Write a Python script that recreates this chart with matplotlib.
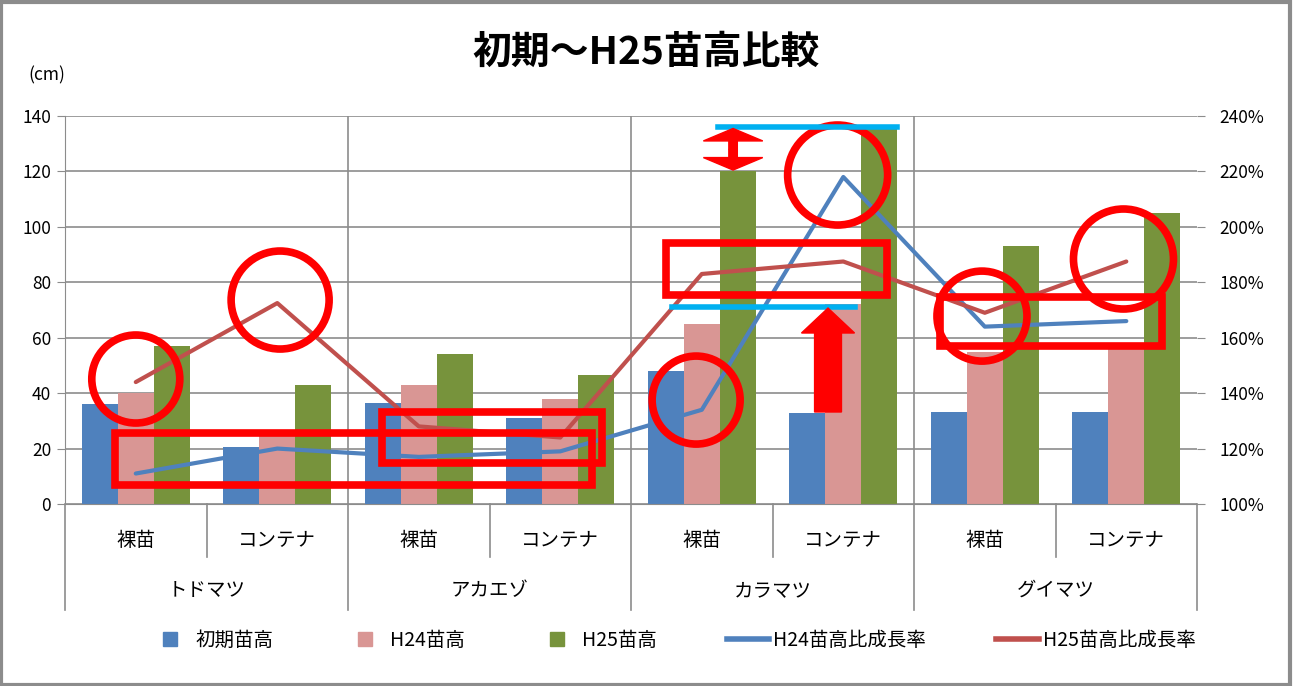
import matplotlib
matplotlib.use('Agg')
import matplotlib.pyplot as plt
import matplotlib.patches as mpatches
from matplotlib.lines import Line2D
from matplotlib.ticker import FuncFormatter
import numpy as np

plt.rcParams['font.family'] = ['Noto Sans CJK JP', 'DejaVu Sans']

# data
species = ['トドマツ', 'アカエゾ', 'カラマツ', 'グイマツ']
types = ['裸苗', 'コンテナ'] * 4
initial_h = [36, 20.5, 36.5, 31, 48, 33, 33.3, 33.3]
h24_h = [40, 25, 43, 38, 65, 72, 55, 56]
h25_h = [57, 43, 54, 46.5, 120, 136, 93, 105]
rate_h24 = [1.11, 1.20, 1.17, 1.19, 1.34, 2.18, 1.64, 1.66]
rate_h25 = [1.44, 1.725, 1.28, 1.24, 1.83, 1.875, 1.69, 1.875]

C_BLUE = '#4F81BD'
C_PINK = '#D99694'
C_GREEN = '#77933C'
C_RED = '#C0504D'
GRID = '#8C8C8C'
MARK = '#FF0000'

fig = plt.figure(figsize=(12.93, 6.86), dpi=100)
ax = fig.add_axes([0.0503, 0.2653, 0.8755, 0.5656])
ax2 = ax.twinx()

x = np.arange(len(types))
w = 0.255
ax.bar(x - w, initial_h, w, color=C_BLUE, zorder=2)
ax.bar(x, h24_h, w, color=C_PINK, zorder=2)
ax.bar(x + w, h25_h, w, color=C_GREEN, zorder=2)

ax2.plot(x, rate_h24, color=C_BLUE, lw=3, solid_capstyle='round', zorder=3)
ax2.plot(x, rate_h25, color=C_RED, lw=3, solid_capstyle='round', zorder=3)

ax.set_xlim(-0.5, 7.5)
ax.set_ylim(0, 140)
ax.set_yticks(range(0, 141, 20))
ax2.set_ylim(1.0, 2.4)
ax2.set_yticks(np.arange(1.0, 2.41, 0.2))
ax2.yaxis.set_major_formatter(FuncFormatter(lambda v, p: f'{v * 100:.0f}%'))

ax.set_xticks([])
ax.grid(axis='y', color=GRID, lw=1.2, zorder=0)
ax.set_axisbelow(True)
for b in [1.5, 3.5, 5.5]:
    ax.axvline(b, color=GRID, lw=1.2, zorder=0)
for a in (ax, ax2):
    for s in ['top', 'right']:
        a.spines[s].set_visible(False)
    a.spines['left'].set_visible(a is ax)
    a.spines['bottom'].set_visible(a is ax)
ax.spines['left'].set_color(GRID)
ax.spines['bottom'].set_color(GRID)
ax.tick_params(axis='y', labelsize=12.5, length=6, color=GRID, pad=4)
ax2.tick_params(axis='y', labelsize=12.5, length=6, color=GRID, pad=10)

# two-level category axis
tr = ax.get_xaxis_transform()
for i, t in enumerate(types):
    ax.text(i, -0.093, t, transform=tr, ha='center', va='center', fontsize=14)
for j, sp in enumerate(species):
    ax.text(2 * j + 0.5, -0.222, sp, transform=tr, ha='center', va='center', fontsize=14)
for b in [0.5, 2.5, 4.5, 6.5]:
    ax.plot([b, b], [0, -0.137], transform=tr, color=GRID, lw=1.2, clip_on=False)
for b in [-0.5, 1.5, 3.5, 5.5, 7.5]:
    ax.plot([b, b], [0, -0.273], transform=tr, color=GRID, lw=1.2, clip_on=False)

# red / cyan markup drawn over the chart (on ax2 so it sits above the lines,
# but positioned in cm coordinates of the left axis)
cm = ax.transData
boxes = [(-0.147, 6.9, 3.224, 25.6), (1.74, 14.8, 3.295, 33.2),
         (3.747, 75.4, 5.309, 94.2), (5.684, 57.0, 7.253, 74.7)]
for x0, y0, x1, y1 in boxes:
    ax2.add_patch(mpatches.Rectangle((x0, y0), x1 - x0, y1 - y0, fill=False, transform=cm,
                                     ec=MARK, lw=5.5, zorder=6, clip_on=False))
circles = [(0.0, 45.1, 44), (1.02, 73.6, 49), (3.96, 37.5, 44),
           (4.96, 118.7, 50), (5.98, 67.8, 45), (6.98, 88.4, 50)]
for cx, cy, r in circles:
    ax2.add_patch(mpatches.Ellipse((cx, cy), 2 * r / 141.5, 2 * r / 2.771, fill=False,
                                   transform=cm, ec=MARK, lw=5.5, zorder=6, clip_on=False))
ax2.plot([4.115, 5.38], [136, 136], transform=cm, color='#00B0F0', lw=4, zorder=6, clip_on=False)
ax2.plot([3.79, 5.083], [71.1, 71.1], transform=cm, color='#00B0F0', lw=4, zorder=6, clip_on=False)
ax2.add_patch(mpatches.FancyArrow(4.892, 33.2, 0, 37.5, width=0.19, head_width=0.375,
                                  head_length=9, length_includes_head=True,
                                  color=MARK, transform=cm, zorder=6))
for end in (120.5, 135.5):
    ax2.add_patch(mpatches.FancyArrow(4.221, 128, 0, end - 128, width=0.06, head_width=0.42,
                                      head_length=4.5, length_includes_head=True,
                                      color=MARK, transform=cm, zorder=6))

# titles
fig.text(0.5, 0.924, '初期～H25苗高比較', ha='center', va='center', fontsize=28, fontweight='bold')
fig.text(0.036, 0.89, '(cm)', ha='center', va='center', fontsize=12.5)

handles = [Line2D([], [], marker='s', ls='none', color=C_BLUE, markersize=10),
           Line2D([], [], marker='s', ls='none', color=C_PINK, markersize=10),
           Line2D([], [], marker='s', ls='none', color=C_GREEN, markersize=10),
           Line2D([], [], color=C_BLUE, lw=4),
           Line2D([], [], color=C_RED, lw=4)]
labels = ['初期苗高', 'H24苗高', 'H25苗高', 'H24苗高比成長率', 'H25苗高比成長率']
fig.legend(handles, labels, loc='center', bbox_to_anchor=(0.52, 0.067), ncol=5,
           frameon=False, fontsize=14, handlelength=2.2, handletextpad=0.2,
           columnspacing=3.6)

fig.patches.append(mpatches.Rectangle((0.001, 0.002), 0.997, 0.995, transform=fig.transFigure,
                                      fill=False, ec='#8C8C8C', lw=3))

fig.savefig('out.png', dpi=100)
